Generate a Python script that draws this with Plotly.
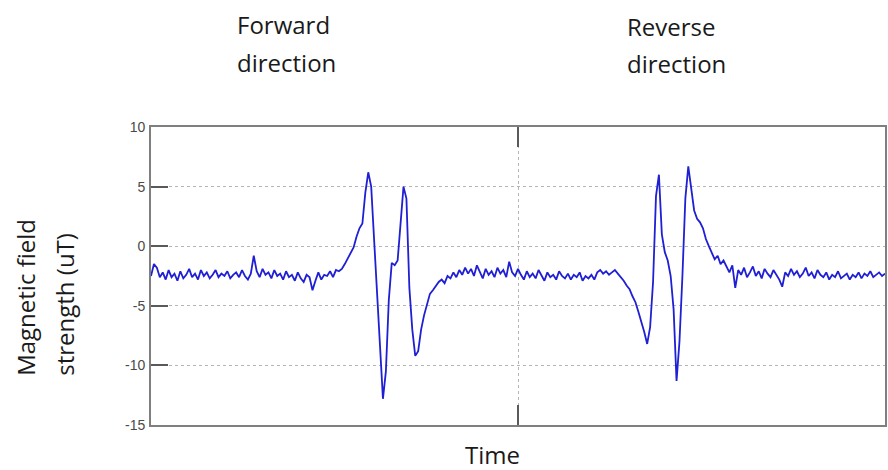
import plotly.graph_objects as go

# Magnetic field strength (uT) samples
field_ut = [
    -2.5, -1.5, -1.8, -2.6, -2.2, -2.8, -2.0, -2.6, -2.3, -2.9,
    -2.1, -2.7, -2.4, -1.9, -2.6, -2.3, -2.8, -2.0, -2.5, -2.2,
    -2.7, -2.4, -2.0, -2.6, -2.3, -2.5, -2.1, -2.7, -2.4, -2.2,
    -2.6, -2.0, -2.5, -2.8, -2.3, -0.8, -2.1, -2.6, -1.9, -2.4,
    -2.2, -2.7, -2.0, -2.5, -2.3, -2.8, -2.1, -2.6, -2.4, -2.9,
    -2.2, -2.7, -3.0, -2.4, -2.6, -3.7, -2.9, -2.2, -2.8, -2.4,
    -2.5, -2.1, -2.6, -2.0, -2.1, -1.9, -1.5, -1.0, -0.6, -0.1,
    0.8, 1.5, 1.9, 4.5, 6.2, 5.0, 0.5, -3.8, -7.8, -12.8,
    -10.5, -4.5, -1.4, -1.6, -1.2, 1.8, 5.0, 4.0, -3.5, -7.0,
    -9.2, -8.8, -7.0, -5.8, -4.8, -4.0, -3.7, -3.3, -3.0, -2.8,
    -3.1, -2.5, -2.7, -2.2, -2.6, -2.0, -2.4, -1.8, -2.3, -1.9,
    -2.5, -1.6, -2.2, -2.7, -1.9, -2.4, -2.1, -2.6, -1.8, -2.3,
    -2.0, -2.6, -1.3, -2.2, -2.5, -1.9, -2.4, -2.8, -2.1, -2.6,
    -2.3, -2.7, -2.0, -2.5, -2.9, -2.2, -2.6, -2.4, -2.8, -2.1,
    -2.5, -2.7, -2.3, -2.8, -2.4, -2.6, -2.2, -2.9, -2.5, -2.7,
    -2.4, -2.8, -2.2, -2.0, -2.3, -2.1, -2.4, -2.2, -2.0, -2.3,
    -2.6, -2.9, -3.3, -3.6, -4.2, -4.7, -5.5, -6.3, -7.2, -8.2,
    -6.8, -3.0, 4.2, 6.0, 1.0, -0.5, -1.2, -2.5, -5.3, -11.3,
    -8.0, -2.5, 4.0, 6.7, 4.8, 3.0, 2.3, 2.0, 1.5, 0.6,
    0.0, -0.6, -1.1, -0.8, -1.5, -1.2, -1.7, -2.2, -1.6, -3.5,
    -2.0, -2.4, -1.8, -2.6, -2.2, -1.7, -2.5, -2.1, -2.7, -1.9,
    -2.3, -2.6, -2.0, -2.4, -2.8, -3.4, -2.2, -2.5, -1.9, -2.4,
    -2.1, -2.6, -2.3, -1.8, -2.5, -2.2, -2.7, -2.0, -2.4, -2.6,
    -2.2, -2.8, -2.4, -2.6, -2.1, -2.7, -2.5, -2.3, -2.8, -2.4,
    -2.6, -2.2, -2.7, -2.3, -2.5, -2.1, -2.6, -2.4, -2.2, -2.5, -2.3,
]
sample_index = list(range(len(field_ut)))

y_ticks = [-15, -10, -5, 0, 5, 10]
y_tick_labels = ["-15", "-10", "-5", "0", "5", "10"]
x_ticks = [125]

W, H = 888, 470
L, R, T, B = 151, 1, 127, 45
pw, ph = W - L - R, H - T - B


def px_x(x):
    return (x - L) / pw


def px_y(y):
    return (H - B - y) / ph


fig = go.Figure()
fig.add_trace(go.Scatter(
    x=sample_index, y=field_ut, mode="lines",
    line=dict(color="#1f1fd4", width=1.8),
    showlegend=False, hoverinfo="skip",
))

axis_common = dict(
    showline=True, linecolor="#7f7f7f", linewidth=1.8,
    showgrid=True, gridcolor="#b5b5b5", griddash="dot", gridwidth=1,
    zeroline=False, ticks="inside", tickcolor="#5a5a5a", tickwidth=2,
)

fig.update_xaxes(
    range=[0, 250], tickvals=x_ticks, showticklabels=False,
    ticklen=20, mirror="ticks", **axis_common,
)
fig.update_yaxes(
    range=[-15, 10], tickvals=y_ticks, ticktext=y_tick_labels, ticklen=17, mirror=True,
    tickfont=dict(family="Liberation Sans, Arial", size=14, color="#4a4a4a"),
    ticklabelstandoff=1,
    **axis_common,
)

text_font = dict(family="Open Sans", size=24, color="#1a1a1a")
top_labels = [
    ("Forward", 235, 24),
    ("direction", 235, 62),
    ("Reverse", 626, 26),
    ("direction", 626, 64),
]
for text, x, y in top_labels:
    fig.add_annotation(
        text=text, x=px_x(x), y=px_y(y), xref="paper", yref="paper",
        showarrow=False, xanchor="left", yanchor="middle", font=text_font,
    )

fig.add_annotation(text="Time", x=px_x(493), y=px_y(454), xref="paper", yref="paper",
                   showarrow=False, font=text_font, xanchor="center", yanchor="middle")
fig.add_annotation(text="Magnetic field", x=px_x(25), y=px_y(378), xref="paper", yref="paper",
                   textangle=-90, showarrow=False, font=text_font,
                   xanchor="center", yanchor="bottom")
fig.add_annotation(text="strength (uT)", x=px_x(64), y=px_y(378), xref="paper", yref="paper",
                   textangle=-90, showarrow=False, font=text_font,
                   xanchor="center", yanchor="bottom")

fig.update_layout(
    width=W, height=H,
    margin=dict(l=L, r=R, t=T, b=B),
    paper_bgcolor="white", plot_bgcolor="white",
)
fig.write_html("out.html")
